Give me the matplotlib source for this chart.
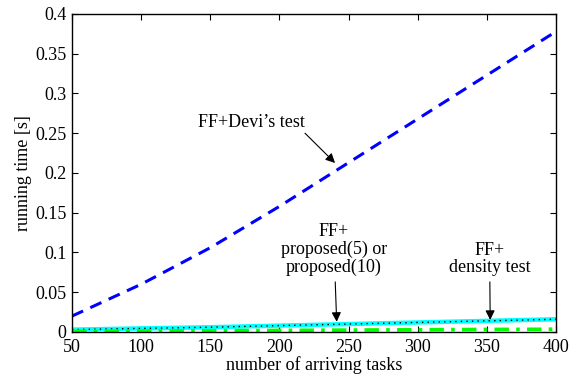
import matplotlib
matplotlib.use('Agg')
import matplotlib.pyplot as plt

plt.rcParams['font.family'] = ['Liberation Serif', 'DejaVu Serif']
plt.rcParams['mathtext.fontset'] = 'stix'

# data
tasks = [50, 100, 150, 200, 250, 300, 350, 400]
devi = [0.020, 0.060, 0.106, 0.158, 0.213, 0.268, 0.323, 0.378]
proposed5 = [0.003, 0.0045, 0.006, 0.008, 0.010, 0.012, 0.014, 0.016]
proposed10 = [0.003, 0.0045, 0.006, 0.008, 0.010, 0.012, 0.014, 0.016]
density = [0.0008, 0.0012, 0.0016, 0.0020, 0.0024, 0.0028, 0.0032, 0.0035]

yticks = [0, 0.05, 0.1, 0.15, 0.2, 0.25, 0.3, 0.35, 0.4]
ytick_labels = ['0', '0.05', '0.1', '0.15', '0.2', '0.25', '0.3', '0.35', '0.4']
xticks = [50, 100, 150, 200, 250, 300, 350, 400]

fig = plt.figure(figsize=(5.75, 3.77), dpi=100)
ax = fig.add_axes([0.1252, 0.1194, 0.8418, 0.8435])

ax.plot(tasks, devi, color='#0000ff', linewidth=2.2, linestyle=(0, (4, 2.6)))
ax.plot(tasks, proposed5, color='#00ffff', linewidth=3.2)
ax.plot(tasks, proposed10, color='black', linewidth=1.0, linestyle=(0, (1, 3)))
ax.plot(tasks, density, color='#00ff00', linewidth=2.6, linestyle=(0, (4, 2, 1, 2)))

ax.set_xlim(50, 400)
ax.set_ylim(0, 0.4)
ax.set_xticks(xticks)
ax.set_yticks(yticks)
ax.set_yticklabels(ytick_labels)
ax.tick_params(direction='in', top=True, right=True, labelsize=13, length=4)
ax.tick_params(axis='x', pad=5)
ax.tick_params(axis='y', pad=4)
for s in ax.spines.values():
    s.set_linewidth(1.0)

ax.set_xlabel('number of arriving tasks', fontsize=13, labelpad=0)
ax.set_ylabel('running time [s]', fontsize=13, labelpad=2)

arrow = dict(arrowstyle='-|>', color='black', lw=0.8, mutation_scale=14)
ax.text(179.4, 0.264, "FF+Devi\u2019s test", ha='center', va='center', fontsize=13)
ax.annotate('', xy=(240.2, 0.2126), xytext=(218.5, 0.25),
            arrowprops=dict(arrow, shrinkA=0, shrinkB=0))
ax.annotate("FF+\nproposed(5) or\nproposed(10)", xy=(241.4, 0.0128), xytext=(239.5, 0.070),
            ha='center', va='bottom', fontsize=13, linespacing=1.05,
            arrowprops=dict(arrow, shrinkA=2, shrinkB=0))
ax.annotate("FF+\ndensity test", xy=(352.4, 0.0152), xytext=(352.0, 0.070),
            ha='center', va='bottom', fontsize=13, linespacing=1.05,
            arrowprops=dict(arrow, shrinkA=2, shrinkB=0))

fig.savefig('out.png', dpi=100)
